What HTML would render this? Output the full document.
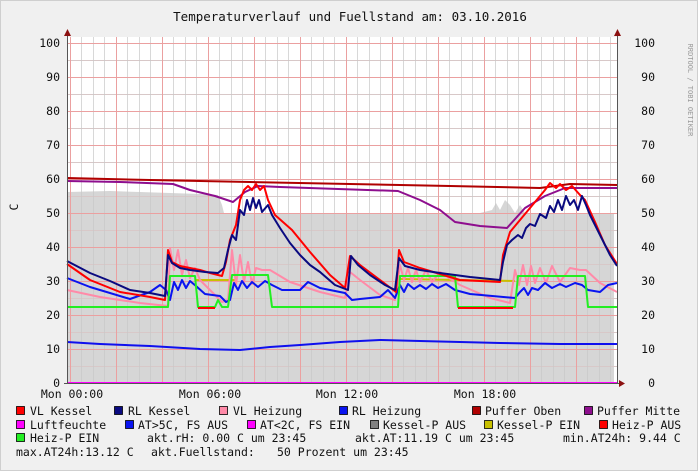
<!DOCTYPE html>
<html><head><meta charset="utf-8"><style>
html,body{margin:0;padding:0;background:#f0f0f0}
svg{display:block}
text{font-family:"DejaVu Sans Mono","Liberation Mono",monospace;font-size:11.5px;fill:#111}
</style></head><body>
<svg width="698" height="471" viewBox="0 0 698 471" xmlns="http://www.w3.org/2000/svg">
<rect x="0" y="0" width="698" height="471" fill="#f0f0f0"/>
<rect x="0.5" y="0.5" width="697" height="470" fill="none" stroke="#cfcfcf"/>
<text x="350" y="21" text-anchor="middle" style="font-size:12.5px">Temperaturverlauf und Fuellstand am: 03.10.2016</text>
<text transform="translate(688,90) rotate(90)" text-anchor="middle" style="font-size:7px;fill:#999">RRDTOOL / TOBI OETIKER</text>
<text transform="translate(18,207) rotate(-90)" text-anchor="middle">C</text>
<rect x="67" y="37" width="550" height="346" fill="#fff"/>
<polygon fill="#d6d6d6" points="67,383 67,192 110,191 140,192 170,193 200,194 218,195 222,205 224,213 260,213 300,213 400,213 480,213 492,210 496,203 500,210 505,200 510,205 515,213 520,205 525,213 540,213 560,213 614,213 614,383"/>
<g stroke="#d8c8c8" stroke-width="1">
<path d="M67,366.5H617M67,349.5H617M67,332.5H617M67,315.5H617M67,298.5H617M67,281.5H617M67,264.5H617M67,247.5H617M67,230.5H617M67,213.5H617M67,196.5H617M67,179.5H617M67,162.5H617M67,145.5H617M67,128.5H617M67,111.5H617M67,94.5H617M67,77.5H617M67,60.5H617M67,43.5H617"/>
</g>
<g stroke="#c8c8c8" stroke-opacity="0.7">
<path d="M81.5,37V383M93.5,37V383M104.5,37V383M127.5,37V383M139.5,37V383M150.5,37V383M173.5,37V383M185.5,37V383M196.5,37V383M219.5,37V383M231.5,37V383M242.5,37V383M265.5,37V383M277.5,37V383M288.5,37V383M311.5,37V383M323.5,37V383M334.5,37V383M357.5,37V383M369.5,37V383M380.5,37V383M403.5,37V383M415.5,37V383M426.5,37V383M449.5,37V383M461.5,37V383M472.5,37V383M495.5,37V383M507.5,37V383M518.5,37V383M541.5,37V383M553.5,37V383M564.5,37V383M587.5,37V383M599.5,37V383M610.5,37V383"/>
</g>
<g stroke="#eba0a0" stroke-width="1">
<path d="M67,349.5H617M67,315.5H617M67,281.5H617M67,247.5H617M67,213.5H617M67,179.5H617M67,145.5H617M67,111.5H617M67,77.5H617M67,43.5H617"/>
<path d="M70.5,37V383M116.5,37V383M162.5,37V383M208.5,37V383M254.5,37V383M300.5,37V383M346.5,37V383M392.5,37V383M438.5,37V383M484.5,37V383M530.5,37V383M576.5,37V383"/>
</g>
<g fill="none" stroke-width="2" stroke-linejoin="round">
<polyline stroke="#1010ee" points="67,342 100,344 150,346 200,349 240,350 270,347 300,345 340,342 380,340 420,341 460,342 500,343 560,344 617,344"/>
<polyline stroke="#b00000" points="67,178 150,180 250,182 350,184 450,186 540,188 570,184 617,185"/>
<polyline stroke="#8e0e8e" points="67,181 120,182 173,184 190,190 215,196 233,202 245,192 258,186 280,187 398,191 420,200 440,210 455,222 480,226 507,228 525,208 545,196 565,188 617,188"/>
<polyline stroke="#c8c000" points="195,280 235,280"/>
<polyline stroke="#c8c000" points="400,279 515,281"/>
<polyline stroke="#ff8aa8" points="67,290 100,297 140,303 168,306 170,248 174,270 178,250 182,275 186,260 190,278 195,268 200,280 210,290 222,302 228,300 232,250 236,285 240,255 244,282 248,262 252,284 256,268 262,270 270,270 290,282 320,292 345,298 350,272 360,280 380,295 395,300 400,265 404,280 408,268 412,282 416,270 420,282 426,270 432,282 440,272 460,285 490,298 510,303 515,270 519,285 523,265 527,285 531,266 535,283 540,268 546,283 552,266 560,282 570,268 580,270 586,270 600,283 617,292"/>
<polyline stroke="#0a14f0" points="67,278 90,287 130,299 150,292 160,285 166,290 170,300 174,282 178,290 182,280 186,288 190,281 196,286 205,294 220,296 226,302 230,300 234,283 238,290 242,281 247,288 252,282 258,287 265,281 272,285 282,290 300,290 308,282 320,288 345,293 352,300 360,299 380,297 388,290 395,298 400,285 404,292 408,284 414,289 420,285 426,289 432,284 438,288 446,284 455,290 470,294 515,298 520,292 524,288 528,295 532,288 538,290 545,283 552,288 560,284 566,287 575,283 582,285 588,290 600,292 608,285 617,283"/>
<polyline stroke="#22ee22" points="67,307 168,307 170,276 195,276 198,307 215,307 218,300 222,307 228,307 232,275 268,275 272,307 350,307 398,307 400,276 455,276 458,307 515,307 518,276 585,276 588,307 617,307"/>
<polyline stroke="#ff0000" points="198,308 215,308"/>
<polyline stroke="#ff0000" points="458,308 513,308"/>
<polyline stroke="#ff0000" points="67,264 90,280 120,292 150,297 165,300 168,250 172,262 180,266 200,270 210,273 222,276 226,262 230,240 236,225 240,200 244,190 248,186 252,190 256,184 260,190 264,186 268,200 275,215 292,230 310,252 330,275 345,288 350,256 360,265 380,280 396,292 399,250 404,262 420,268 440,274 460,280 500,282 503,255 510,232 520,220 530,208 540,196 545,190 550,183 556,188 560,184 566,190 572,186 580,195 585,200 595,222 605,245 617,264"/>
<polyline stroke="#0a0a80" points="67,261 90,273 110,281 130,290 150,293 165,296 168,255 172,263 180,268 190,270 205,272 218,273 224,268 228,250 232,235 236,240 240,210 244,215 247,200 250,210 253,198 256,208 259,200 262,212 268,205 272,215 280,228 290,243 300,255 310,265 320,272 335,285 348,290 351,256 358,265 370,275 385,285 395,290 399,258 405,266 420,270 440,273 470,277 500,280 503,262 507,245 512,240 518,235 522,238 526,228 530,224 535,226 540,214 546,218 550,206 554,212 558,200 562,210 566,196 570,205 574,200 578,210 582,196 586,205 590,215 600,235 610,255 617,266"/>
<polyline stroke="#ff00ff" points="67,383 617,383"/>
</g>
<path d="M67.5,383V34" stroke="#555" fill="none"/>
<polygon points="64,36 71,36 67.5,29" fill="#8b1010"/>
<path d="M617.5,383V34" stroke="#555" fill="none"/>
<polygon points="614,36 621,36 617.5,29" fill="#8b1010"/>
<path d="M64,383.5H621" stroke="#555"/>
<polygon points="619,380 619,387 625,383.5" fill="#8b1010"/>
<g text-anchor="end">
<text x="60" y="47">100</text><text x="60" y="81">90</text><text x="60" y="115">80</text><text x="60" y="149">70</text><text x="60" y="183">60</text><text x="60" y="217">50</text><text x="60" y="251">40</text><text x="60" y="285">30</text><text x="60" y="319">20</text><text x="60" y="353">10</text><text x="60" y="387">0</text>
<text x="655" y="47">100</text><text x="655" y="81">90</text><text x="655" y="115">80</text><text x="655" y="149">70</text><text x="655" y="183">60</text><text x="655" y="217">50</text><text x="655" y="251">40</text><text x="655" y="285">30</text><text x="655" y="319">20</text><text x="655" y="353">10</text><text x="655" y="387">0</text>
</g>
<g text-anchor="middle">
<text x="72" y="398">Mon 00:00</text><text x="210" y="398">Mon 06:00</text><text x="347" y="398">Mon 12:00</text><text x="485" y="398">Mon 18:00</text>
</g>
<g stroke="#000" stroke-width="0.8">
<rect x="16.5" y="406.5" width="8" height="8" fill="#ff0000"/>
<rect x="114.5" y="406.5" width="8" height="8" fill="#0a0a80"/>
<rect x="219.5" y="406.5" width="8" height="8" fill="#ff8aa8"/>
<rect x="339.5" y="406.5" width="8" height="8" fill="#0a14f0"/>
<rect x="472.5" y="406.5" width="8" height="8" fill="#b00000"/>
<rect x="584.5" y="406.5" width="8" height="8" fill="#8e0e8e"/>
<rect x="16.5" y="420.5" width="8" height="8" fill="#ff00ff"/>
<rect x="125.5" y="420.5" width="8" height="8" fill="#0a14f0"/>
<rect x="247.5" y="420.5" width="8" height="8" fill="#ff00ff"/>
<rect x="370.5" y="420.5" width="8" height="8" fill="#808080"/>
<rect x="484.5" y="420.5" width="8" height="8" fill="#c8c000"/>
<rect x="599.5" y="420.5" width="8" height="8" fill="#ff0000"/>
<rect x="16.5" y="433.5" width="8" height="8" fill="#22ee22"/>
</g>
<text x="30" y="415">VL Kessel</text>
<text x="128" y="415">RL Kessel</text>
<text x="233" y="415">VL Heizung</text>
<text x="352" y="415">RL Heizung</text>
<text x="485" y="415">Puffer Oben</text>
<text x="597" y="415">Puffer Mitte</text>
<text x="30" y="429">Luftfeuchte</text>
<text x="138" y="429">AT&gt;5C, FS AUS</text>
<text x="260" y="429">AT&lt;2C, FS EIN</text>
<text x="383" y="429">Kessel-P AUS</text>
<text x="497" y="429">Kessel-P EIN</text>
<text x="612" y="429">Heiz-P AUS</text>
<text x="30" y="442">Heiz-P EIN</text>
<text x="147" y="442">akt.rH: 0.00 C um 23:45</text>
<text x="355" y="442">akt.AT:11.19 C um 23:45</text>
<text x="563" y="442">min.AT24h: 9.44 C</text>
<text x="16" y="456">max.AT24h:13.12 C</text>
<text x="151" y="456">akt.Fuellstand:</text>
<text x="277" y="456">50 Prozent um 23:45</text>
</svg>
</body></html>
